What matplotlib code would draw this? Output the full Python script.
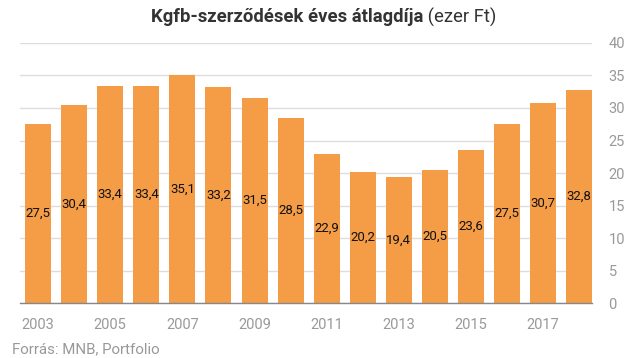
import matplotlib
matplotlib.use("Agg")
import matplotlib.pyplot as plt

# adatok
evek = ["2003", "2004", "2005", "2006", "2007", "2008", "2009", "2010",
        "2011", "2012", "2013", "2014", "2015", "2016", "2017", "2018"]
ertekek = [27.5, 30.4, 33.4, 33.4, 35.1, 33.2, 31.5, 28.5,
           22.9, 20.2, 19.4, 20.5, 23.6, 27.5, 30.7, 32.8]
y_ticks = [0, 5, 10, 15, 20, 25, 30, 35, 40]

plt.rcParams["font.family"] = ["Roboto", "DejaVu Sans"]

fig = plt.figure(figsize=(6.25, 3.58), dpi=100)
ax = fig.add_axes([0.032, 0.1536, 0.915, 0.7263])

x = list(range(len(evek)))
bars = ax.bar(x, ertekek, width=0.72, color="#F59C47", zorder=2)

for i, v in enumerate(ertekek):
    ax.text(i, v / 2, f"{v:.1f}".replace(".", ","), ha="center", va="center",
            fontsize=9.5, color="#111111", zorder=3)

ax.set_xlim(-0.5, 15.35)
ax.set_ylim(0, 40)
ax.set_yticks(y_ticks)
ax.yaxis.tick_right()
ax.grid(axis="y", color="#dddddd", linewidth=1, zorder=0)
ax.set_xticks(x[::2])
ax.set_xticklabels(evek[::2])
ax.tick_params(axis="both", length=0, labelsize=10.5, colors="#999999")
ax.tick_params(axis="x", pad=11)
ax.tick_params(axis="y", pad=12)
for s in ["top", "right", "left"]:
    ax.spines[s].set_visible(False)
ax.spines["bottom"].set_color("#888888")
ax.spines["bottom"].set_linewidth(1)
ax.spines["bottom"].set_zorder(4)

# cím két részben
fig.canvas.draw()
r = fig.canvas.get_renderer()
t1 = fig.text(0, 0.952, "Kgfb-szerződések éves átlagdíja", fontsize=13.3,
              fontweight="bold", color="#333333", va="center")
t2 = fig.text(0, 0.952, " (ezer Ft)", fontsize=13.3, color="#333333", va="center")
w1 = t1.get_window_extent(r).width / fig.bbox.width
w2 = t2.get_window_extent(r).width / fig.bbox.width
x0 = 0.518 - (w1 + w2) / 2
t1.set_x(x0)
t2.set_x(x0 + w1)

fig.text(0.019, 0.024, "Forrás: MNB, Portfolio", fontsize=10.8, color="#999999",
         va="center")

fig.savefig("out.png", dpi=100)
